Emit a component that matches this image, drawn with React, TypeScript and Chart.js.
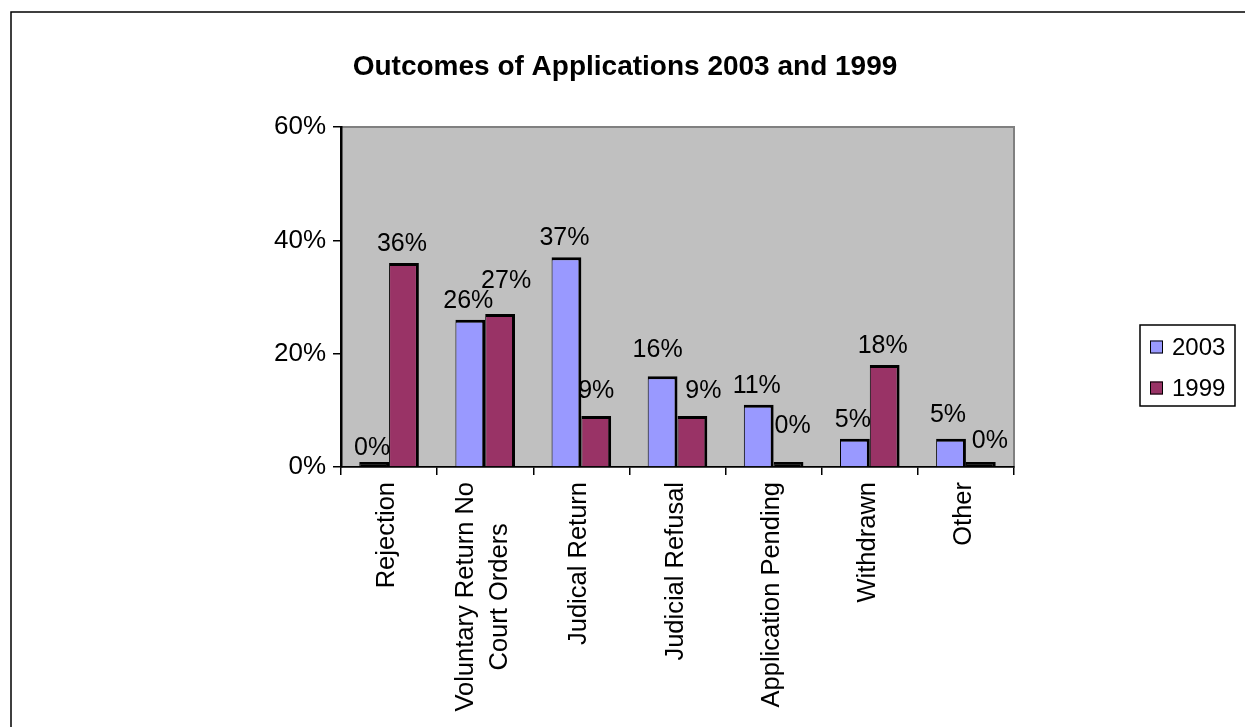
import React, { useEffect, useRef } from 'react';
import { Chart, registerables } from 'chart.js';

Chart.register(...registerables);

// ---- data ----
const categories: (string | string[])[] = [
  'Rejection',
  ['Voluntary Return No', 'Court Orders'],
  'Judical Return',
  'Judicial Refusal',
  'Application Pending',
  'Withdrawn',
  'Other',
];
const seriesNames = ['2003', '1999'];
const values2003 = [0, 26, 37, 16, 11, 5, 5];
const values1999 = [36, 27, 9, 9, 0, 18, 0];
const yTickValues = [0, 20, 40, 60];
const titleText = 'Outcomes of Applications 2003 and 1999';

// ---- styles ----
const FONT = 'Arial, "Liberation Sans", sans-serif';
const COLORS = ['#9999FF', '#993366'];
// small manual label nudges (dx, dy) like the hand-placed labels in the original
const LABEL_NUDGE: Record<string, [number, number]> = {
  '1-1': [8, -14],
  '1-2': [2, -6],
  '0-3': [-3, -7],
  '1-3': [13, -6],
  '1-4': [6, -22],
  '0-6': [-1, -5],
  '1-6': [11, -7],
};

const framePlugin = {
  id: 'frame',
  beforeDraw(chart: any) {
    const { ctx, chartArea: a } = chart;
    ctx.save();
    // outer chart border
    ctx.strokeStyle = '#000';
    ctx.lineWidth = 1.5;
    ctx.strokeRect(11, 12, 1400, 900);
    // plot area
    ctx.fillStyle = '#C0C0C0';
    ctx.fillRect(a.left, a.top, a.right - a.left, a.bottom - a.top);
    ctx.strokeStyle = '#808080';
    ctx.lineWidth = 2;
    ctx.strokeRect(a.left, a.top, a.right - a.left, a.bottom - a.top);
    // title
    ctx.fillStyle = '#000';
    ctx.font = `bold 28px ${FONT}`;
    ctx.textAlign = 'center';
    ctx.textBaseline = 'alphabetic';
    ctx.fillText(titleText, 625, 75);
    ctx.restore();
  },
  afterDatasetsDraw(chart: any) {
    const { ctx } = chart;
    const yScale = chart.scales.y;
    const xScale = chart.scales.x;
    ctx.save();
    // data labels
    ctx.fillStyle = '#000';
    ctx.font = `25px ${FONT}`;
    ctx.textAlign = 'center';
    ctx.textBaseline = 'alphabetic';
    chart.data.datasets.forEach((ds: any, di: number) => {
      const meta = chart.getDatasetMeta(di);
      meta.data.forEach((bar: any, i: number) => {
        const v = ds.data[i];
        const top = yScale.getPixelForValue(v);
        const n = LABEL_NUDGE[`${di}-${i}`] || [0, 0];
        ctx.fillText(`${v}%`, bar.x - 2 + n[0], top - 12 + n[1]);
      });
    });
    // rotated category labels
    ctx.font = `25.5px ${FONT}`;
    ctx.textBaseline = 'middle';
    const lineH = 34;
    chart.data.labels.forEach((lab: any, i: number) => {
      const lines: string[] = Array.isArray(lab) ? lab : [lab];
      const w = Math.max(...lines.map((l) => ctx.measureText(l).width));
      const cx = xScale.getPixelForValue(i) - 2;
      const top = xScale.top + 15;
      ctx.save();
      ctx.translate(cx, top);
      ctx.rotate(-Math.PI / 2);
      lines.forEach((l, li) => {
        ctx.fillText(l, -w / 2, (li - (lines.length - 1) / 2) * lineH);
      });
      ctx.restore();
    });
    // legend
    ctx.strokeStyle = '#000';
    ctx.lineWidth = 1.5;
    ctx.strokeRect(1140, 325, 95, 81);
    ctx.font = `24px ${FONT}`;
    ctx.textAlign = 'left';
    ctx.textBaseline = 'middle';
    seriesNames.forEach((name, si) => {
      const cy = 347 + si * 41;
      ctx.fillStyle = COLORS[si];
      ctx.fillRect(1150, cy - 6.5, 13, 13);
      ctx.lineWidth = 1;
      ctx.strokeRect(1150.5, cy - 6, 12, 12);
      ctx.fillStyle = '#000';
      ctx.fillText(name, 1172, cy + 1);
    });
    ctx.restore();
  },
};

const barFill = (color: string) => (c: any) => (c.raw === 0 ? '#000' : color);

export default function App() {
  const ref = useRef<HTMLCanvasElement | null>(null);
  useEffect(() => {
    if (!ref.current) return;
    const chart = new Chart(ref.current, {
      type: 'bar',
      data: {
        labels: categories as any,
        datasets: [
          {
            label: seriesNames[0],
            data: values2003,
            backgroundColor: barFill(COLORS[0]) as any,
            borderColor: '#000',
            borderWidth: { top: 3, right: 3, left: 1, bottom: 0 } as any,
            minBarLength: 5,
          },
          {
            label: seriesNames[1],
            data: values1999,
            backgroundColor: barFill(COLORS[1]) as any,
            borderColor: '#000',
            borderWidth: { top: 3, right: 3, left: 1, bottom: 0 } as any,
            minBarLength: 5,
          },
        ],
      },
      options: {
        responsive: false,
        animation: false,
        devicePixelRatio: 1,
        layout: { padding: { left: 0, top: 127, right: 231, bottom: 0 } },
        datasets: { bar: { categoryPercentage: 0.62, barPercentage: 1 } },
        plugins: {
          legend: { display: false },
          title: { display: false },
          tooltip: { enabled: false },
        },
        scales: {
          x: {
            grid: {
              display: true,
              drawOnChartArea: false,
              drawTicks: true,
              tickLength: 8,
              color: '#000',
              lineWidth: 1.5,
              offset: true,
            },
            border: { display: true, color: '#000', width: 1.5 },
            ticks: { display: false },
            afterFit: (s: any) => {
              s.height = 727 - 467;
            },
          },
          y: {
            min: 0,
            max: 60,
            afterBuildTicks: (s: any) => {
              s.ticks = yTickValues.map((v) => ({ value: v }));
            },
            grid: {
              display: true,
              drawOnChartArea: false,
              drawTicks: true,
              tickLength: 8,
              color: '#000',
              lineWidth: 1.5,
            },
            border: { display: true, color: '#000', width: 2.5 },
            ticks: {
              color: '#000',
              font: { family: FONT, size: 26 },
              padding: 7,
              callback: (v: any) => `${v}%`,
            },
            afterFit: (s: any) => {
              s.width = 341;
            },
          },
        },
      },
      plugins: [framePlugin],
    });
    return () => chart.destroy();
  }, []);
  return (
    <div style={{ position: 'fixed', left: 0, top: 0, width: 1245, height: 727, background: '#fff' }}>
      <canvas ref={ref} width={1245} height={727} style={{ display: 'block' }} />
    </div>
  );
}
